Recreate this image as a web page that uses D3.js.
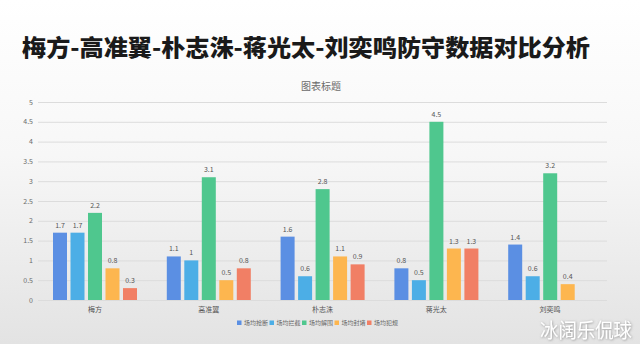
<!DOCTYPE html>
<html>
<head>
<meta charset="utf-8">
<script src="https://cdn.jsdelivr.net/npm/d3@7"></script>
<style>
  html, body { margin: 0; padding: 0; }
  body { width: 640px; height: 344px; overflow: hidden; }
  text { font-family: "Noto Sans CJK SC", "Noto Sans", sans-serif; }
</style>
</head>
<body>
<svg id="chart" width="640" height="344"></svg>
<script>
const players = ["梅方", "高准翼", "朴志洙", "蒋光太", "刘奕鸣"];
const seriesNames = ["场均抢断", "场均拦截", "场均解围", "场均封堵", "场均犯规"];
const steals = [1.7, 1.1, 1.6, 0.8, 1.4];
const intercepts = [1.7, 1, 0.6, 0.5, 0.6];
const clearances = [2.2, 3.1, 2.8, 4.5, 3.2];
const blocks = [0.8, 0.5, 1.1, 1.3, 0.4];
const fouls = [0.3, 0.8, 0.9, 1.3, null];
const yTicks = [0, 0.5, 1, 1.5, 2, 2.5, 3, 3.5, 4, 4.5, 5];
const colors = ["#5b8fe3", "#4caee6", "#4fc78e", "#fdb64f", "#f17f65"];

const seriesValues = [steals, intercepts, clearances, blocks, fouls];

const svg = d3.select("#chart");
const width = 640, height = 344;

// background gradient
const defs = svg.append("defs");
const grad = defs.append("linearGradient").attr("id", "bg")
  .attr("x1", 0).attr("y1", 0).attr("x2", 0).attr("y2", 1);
grad.append("stop").attr("offset", "0%").attr("stop-color", "#ffffff");
grad.append("stop").attr("offset", "45%").attr("stop-color", "#f7f7f7");
grad.append("stop").attr("offset", "100%").attr("stop-color", "#e3e3e3");
const shadow = defs.append("filter").attr("id", "shadow");
shadow.append("feDropShadow").attr("dx", 0.6).attr("dy", 0.6)
  .attr("stdDeviation", 0.8).attr("flood-color", "#777").attr("flood-opacity", 0.8);

svg.append("rect").attr("width", width).attr("height", height).attr("fill", "url(#bg)");

// main title
svg.append("text")
  .attr("x", 22).attr("y", 56)
  .attr("font-size", 23).attr("font-weight", 900).attr("fill", "#1a1a1a")
  .attr("textLength", 568).attr("lengthAdjust", "spacingAndGlyphs")
  .text("梅方-高准翼-朴志洙-蒋光太-刘奕鸣防守数据对比分析");

svg.append("text")
  .attr("x", 321).attr("y", 90)
  .attr("text-anchor", "middle").attr("font-size", 10).attr("fill", "#6b6b6b")
  .text("图表标题");

const plot = { left: 38, right: 607, top: 102, bottom: 300 };

const y = d3.scaleLinear().domain([0, 5]).range([plot.bottom, plot.top]);
const x0 = d3.scaleBand().domain(players).range([plot.left, plot.right]);
const x1 = d3.scaleBand().domain(seriesNames).range([15, 99]).paddingInner(0.2);

// grid
svg.append("g").selectAll("line").data(yTicks).join("line")
  .attr("x1", plot.left).attr("x2", plot.right)
  .attr("y1", d => y(d) + 0.5).attr("y2", d => y(d) + 0.5)
  .attr("stroke", "#dcdcdc").attr("stroke-width", 1);

// y tick labels
svg.append("g").selectAll("text").data(yTicks).join("text")
  .attr("x", 33).attr("y", d => y(d) + 2.5)
  .attr("text-anchor", "end").attr("font-size", 7).attr("fill", "#6b6b6b")
  .text(d => d);

// bars
const rows = players.map((p, i) => ({
  player: p,
  values: seriesNames.map((s, j) => ({ series: s, idx: j, value: seriesValues[j][i] }))
}));

const groups = svg.append("g").selectAll("g").data(rows).join("g")
  .attr("transform", d => `translate(${x0(d.player)},0)`);

groups.selectAll("rect").data(d => d.values.filter(v => v.value != null)).join("rect")
  .attr("x", d => x1(d.series))
  .attr("y", d => y(d.value))
  .attr("width", x1.bandwidth())
  .attr("height", d => y(0) - y(d.value))
  .attr("fill", d => colors[d.idx]);

groups.selectAll("text").data(d => d.values.filter(v => v.value != null)).join("text")
  .attr("x", d => x1(d.series) + x1.bandwidth() / 2)
  .attr("y", d => y(d.value) - 5)
  .attr("text-anchor", "middle").attr("font-size", 7).attr("fill", "#555")
  .text(d => d.value);

// category labels
svg.append("g").selectAll("text").data(players).join("text")
  .attr("x", d => x0(d) + x0.bandwidth() / 2)
  .attr("y", 312)
  .attr("text-anchor", "middle").attr("font-size", 7).attr("fill", "#555")
  .text(d => d);

// legend
const legend = svg.append("g").attr("transform", "translate(237,325)");
let lx = 0;
seriesNames.forEach((s, i) => {
  const item = legend.append("g").attr("transform", `translate(${lx},0)`);
  item.append("rect").attr("x", 0).attr("y", -4.5).attr("width", 4.5).attr("height", 4.5)
    .attr("fill", colors[i]);
  item.append("text").attr("x", 7).attr("y", 0).attr("font-size", 6).attr("fill", "#666")
    .text(s);
  lx += 32.5;
});

// watermark
svg.append("text")
  .attr("x", 540).attr("y", 338)
  .attr("font-size", 20).attr("fill", "#ffffff")
  .attr("textLength", 92).attr("lengthAdjust", "spacingAndGlyphs")
  .attr("filter", "url(#shadow)")
  .text("冰阔乐侃球");
</script>
</body>
</html>
